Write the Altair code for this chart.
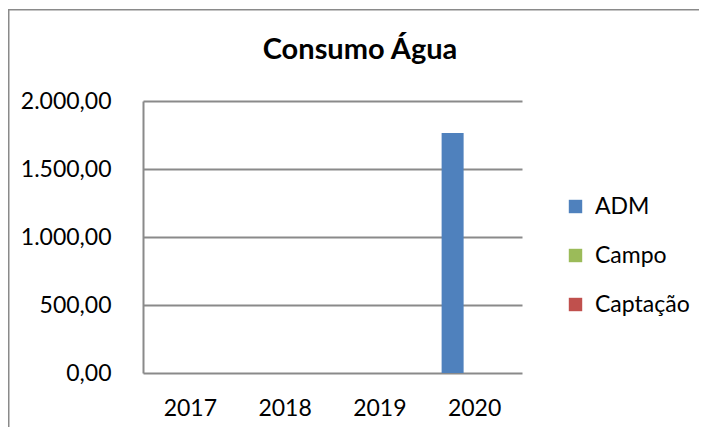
import altair as alt
import pandas as pd

years = ["2017", "2018", "2019", "2020"]
series = ["ADM", "Campo", "Captação"]
adm = [0, 0, 0, 1765]
campo = [0, 0, 0, 0]
captacao = [0, 0, 0, 0]
colors = ["#4F81BD", "#9BBB59", "#C0504D"]
y_ticks = [0, 500, 1000, 1500, 2000]
title_text = "Consumo Água"

rows = []
for s, vals in zip(series, [adm, campo, captacao]):
    for yr, v in zip(years, vals):
        rows.append({"Ano": yr, "Série": s, "Valor": v})
df = pd.DataFrame(rows)

FONT = "Lato"
GRID = "#8a8a8a"

bars = alt.Chart(df).mark_bar().encode(
    x=alt.X("Ano:N", sort=years,
            scale=alt.Scale(paddingInner=0, paddingOuter=0),
            axis=alt.Axis(title=None, labelAngle=0, ticks=False, domain=False,
                          labelFont=FONT, labelFontSize=23, labelColor="#000000",
                          labelPadding=24)),
    xOffset=alt.XOffset("Série:N", sort=series,
                        scale=alt.Scale(paddingInner=0, paddingOuter=0.653)),
    y=alt.Y("Valor:Q",
            scale=alt.Scale(domain=[0, 2000], nice=False),
            axis=alt.Axis(title=None, values=y_ticks, ticks=False,
                          domain=True, domainColor=GRID, domainWidth=2,
                          grid=True, gridColor=GRID, gridWidth=2,
                          labelFont=FONT, labelFontSize=23, labelColor="#000000",
                          labelPadding=32,
                          labelExpr="replace(replace(replace(format(datum.value, ',.2f'), ',', '_'), '.', ','), '_', '.')")),
    color=alt.Color("Série:N", sort=series,
                    scale=alt.Scale(domain=series, range=colors),
                    legend=alt.Legend(title=None, orient="none", legendX=421, legendY=94,
                                      symbolType="square", symbolSize=180,
                                      symbolStrokeWidth=0, labelFont=FONT,
                                      labelFontSize=23, labelColor="#000000",
                                      labelOffset=8, rowPadding=25, padding=0)),
)

title_df = pd.DataFrame({"t": [title_text]})
title = alt.Chart(title_df).mark_text(
    font=FONT, fontSize=29, fontWeight="bold", color="#000000",
    align="center", baseline="alphabetic"
).encode(text="t:N", x=alt.value(217), y=alt.value(-42))

border_df = pd.DataFrame({"k": [0]})
left_border = alt.Chart(border_df).mark_rule(color=GRID, strokeWidth=1.5).encode(
    x=alt.value(-134.25), y=alt.value(-92), y2=alt.value(330))
top_border = alt.Chart(border_df).mark_rule(color=GRID, strokeWidth=1.5).encode(
    x=alt.value(-135), x2=alt.value(556), y=alt.value(-91.25))

chart = alt.layer(bars, title, left_border, top_border).properties(
    width=379, height=272,
    autosize=alt.AutoSizeParams(type="none"),
    padding={"left": 135, "top": 93, "right": 177, "bottom": 54},
).configure_view(stroke=None)

chart.save("out.html", embed_options={"renderer": "svg", "actions": False})
